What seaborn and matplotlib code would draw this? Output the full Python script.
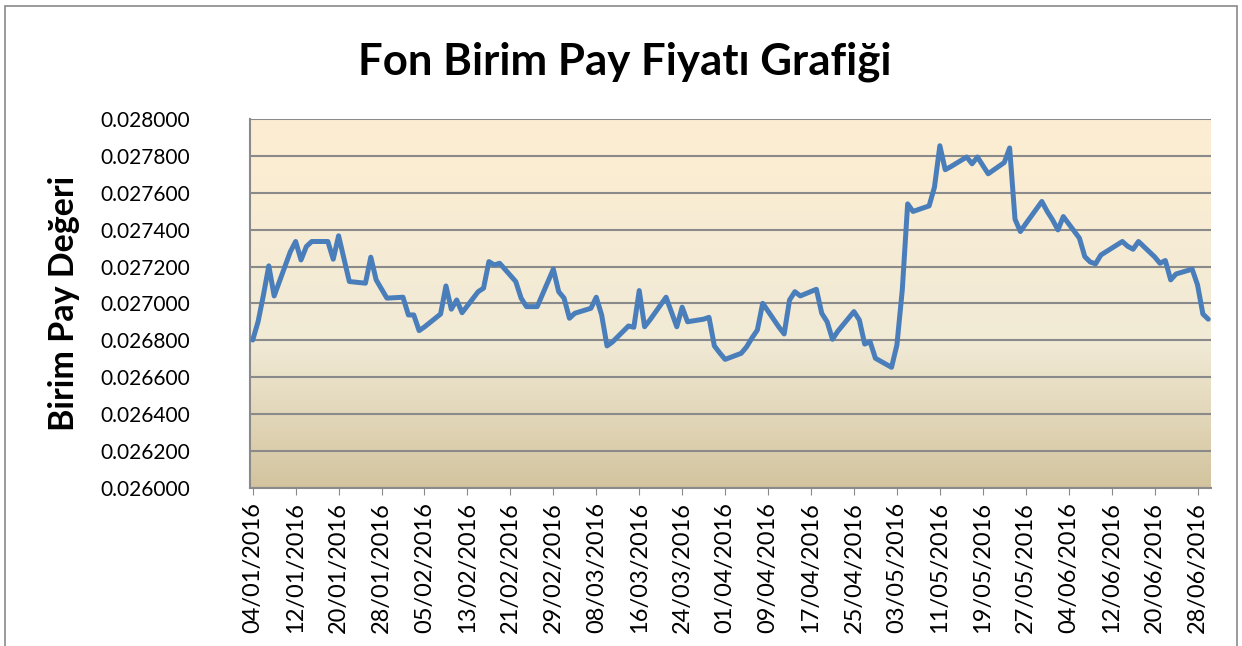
import numpy as np
import pandas as pd
import matplotlib
matplotlib.use("Agg")
import matplotlib.pyplot as plt
import matplotlib.dates as mdates
from matplotlib.patches import Rectangle
from matplotlib.colors import LinearSegmentedColormap
import seaborn as sns

# data (trading days, Jan-Jun 2016)
dates = [
    "2016-01-04", "2016-01-05", "2016-01-06", "2016-01-07", "2016-01-08",
    "2016-01-11", "2016-01-12", "2016-01-13", "2016-01-14", "2016-01-15",
    "2016-01-18", "2016-01-19", "2016-01-20", "2016-01-21", "2016-01-22",
    "2016-01-25", "2016-01-26", "2016-01-27", "2016-01-28", "2016-01-29",
    "2016-02-01", "2016-02-02", "2016-02-03", "2016-02-04", "2016-02-05",
    "2016-02-08", "2016-02-09", "2016-02-10", "2016-02-11", "2016-02-12",
    "2016-02-15", "2016-02-16", "2016-02-17", "2016-02-18", "2016-02-19",
    "2016-02-22", "2016-02-23", "2016-02-24", "2016-02-25", "2016-02-26",
    "2016-02-29", "2016-03-01", "2016-03-02", "2016-03-03", "2016-03-04",
    "2016-03-07", "2016-03-08", "2016-03-09", "2016-03-10", "2016-03-11",
    "2016-03-14", "2016-03-15", "2016-03-16", "2016-03-17", "2016-03-18",
    "2016-03-21", "2016-03-22", "2016-03-23", "2016-03-24", "2016-03-25",
    "2016-03-28", "2016-03-29", "2016-03-30", "2016-03-31", "2016-04-01",
    "2016-04-04", "2016-04-05", "2016-04-06", "2016-04-07", "2016-04-08",
    "2016-04-11", "2016-04-12", "2016-04-13", "2016-04-14", "2016-04-15",
    "2016-04-18", "2016-04-19", "2016-04-20", "2016-04-21", "2016-04-22",
    "2016-04-25", "2016-04-26", "2016-04-27", "2016-04-28", "2016-04-29",
    "2016-05-02", "2016-05-03", "2016-05-04", "2016-05-05", "2016-05-06",
    "2016-05-09", "2016-05-10", "2016-05-11", "2016-05-12", "2016-05-13",
    "2016-05-16", "2016-05-17", "2016-05-18", "2016-05-20",
    "2016-05-23", "2016-05-24", "2016-05-25", "2016-05-26", "2016-05-27",
    "2016-05-30", "2016-05-31", "2016-06-01", "2016-06-02", "2016-06-03",
    "2016-06-06", "2016-06-07", "2016-06-08", "2016-06-09", "2016-06-10",
    "2016-06-13", "2016-06-14", "2016-06-15", "2016-06-16", "2016-06-17",
    "2016-06-20", "2016-06-21", "2016-06-22", "2016-06-23", "2016-06-24",
    "2016-06-27", "2016-06-28", "2016-06-29", "2016-06-30",
]

prices = [
    0.026802, 0.026901, 0.027046, 0.027204, 0.027041,
    0.027280, 0.027336, 0.027236, 0.027309, 0.027336,
    0.027336, 0.027240, 0.027367, 0.027242, 0.027119,
    0.027110, 0.027251, 0.027128, 0.027079, 0.027029,
    0.027034, 0.026938, 0.026938, 0.026853, 0.026873,
    0.026943, 0.027095, 0.026969, 0.027019, 0.026950,
    0.027064, 0.027083, 0.027227, 0.027209, 0.027218,
    0.027119, 0.027029, 0.026983, 0.026983, 0.026983,
    0.027186, 0.027064, 0.027029, 0.026920, 0.026947,
    0.026974, 0.027034, 0.026938, 0.026770, 0.026791,
    0.026878, 0.026871, 0.027070, 0.026874, 0.026911,
    0.027034, 0.026954, 0.026874, 0.026980, 0.026901,
    0.026915, 0.026925, 0.026770, 0.026732, 0.026697,
    0.026730, 0.026765, 0.026813, 0.026856, 0.027001,
    0.026873, 0.026835, 0.027019, 0.027064, 0.027041,
    0.027077, 0.026947, 0.026901, 0.026806, 0.026850,
    0.026956, 0.026911, 0.026780, 0.026793, 0.026703,
    0.026654, 0.026775, 0.027073, 0.027540, 0.027499,
    0.027529, 0.027631, 0.027855, 0.027725, 0.027741,
    0.027794, 0.027757, 0.027794, 0.027703,
    0.027764, 0.027843, 0.027457, 0.027390, 0.027432,
    0.027553, 0.027499, 0.027453, 0.027399, 0.027471,
    0.027354, 0.027254, 0.027225, 0.027215, 0.027263,
    0.027318, 0.027336, 0.027310, 0.027294, 0.027336,
    0.027253, 0.027218, 0.027233, 0.027128, 0.027160,
    0.027186, 0.027101, 0.026943, 0.026915,
]

title = "Fon Birim Pay Fiyatı Grafiği"
y_label = "Birim Pay Değeri"

df = pd.DataFrame({"Tarih": pd.to_datetime(dates), "Fiyat": prices})

sns.set_style("white")
plt.rcParams["font.family"] = ["Lato", "DejaVu Sans"]
plt.rcParams["text.color"] = "black"

fig = plt.figure(figsize=(12.42, 6.46), dpi=100)
ax = fig.add_axes([0.2013, 0.2446, 0.7737, 0.5712])

# gradient background of the plot area
bg = LinearSegmentedColormap.from_list(
    "parch", [(0.0, "#d3c49e"), (0.4, "#f1ead6"), (1.0, "#fdeed2")])
ax.imshow(np.linspace(0, 1, 256).reshape(-1, 1), aspect="auto", cmap=bg,
          origin="lower", extent=[0, 1, 0, 1], transform=ax.transAxes,
          zorder=0)

sns.lineplot(data=df, x="Tarih", y="Fiyat", ax=ax, color="#4a7ebb",
             linewidth=3.6, zorder=3)

ax.set_ylim(0.026, 0.028)
ax.set_yticks(np.arange(0.026, 0.02801, 0.0002))
ax.yaxis.set_major_formatter(plt.FuncFormatter(lambda v, p: f"{v:.6f}"))
ax.grid(axis="y", color="#8a8a8a", linewidth=1.5, zorder=1)
ax.set_axisbelow(False)

x0 = pd.Timestamp("2016-01-04") - pd.Timedelta(hours=12)
x1 = pd.Timestamp("2016-06-30") + pd.Timedelta(hours=12)
ax.set_xlim(x0, x1)
ax.set_xticks(pd.date_range("2016-01-04", "2016-06-30", freq="8D"))
ax.xaxis.set_major_formatter(mdates.DateFormatter("%d/%m/%Y"))
plt.setp(ax.get_xticklabels(), rotation=90)

ax.tick_params(axis="x", labelsize=17, length=5, color="#8a8a8a",
               direction="out", pad=5, labelcolor="black", bottom=True)
ax.tick_params(axis="y", labelsize=15, length=0, pad=43,
               labelcolor="black", left=False)

for side in ["top", "right"]:
    ax.spines[side].set_visible(False)
for side in ["left", "bottom"]:
    ax.spines[side].set_color("#8a8a8a")
    ax.spines[side].set_linewidth(1.5)

ax.set_xlabel("")
ax.set_ylabel(y_label, fontsize=24.5, fontweight="bold", labelpad=15,
              color="black")

fig.text(0.503, 0.905, title, ha="center", va="center", fontsize=31.5,
         fontweight="bold", color="black")

fig.patches.append(Rectangle((0.004, -0.02), 0.992, 1.01,
                             transform=fig.transFigure, fill=False,
                             edgecolor="#8a8a8a", linewidth=1.2))

fig.savefig("out.png", dpi=100)
